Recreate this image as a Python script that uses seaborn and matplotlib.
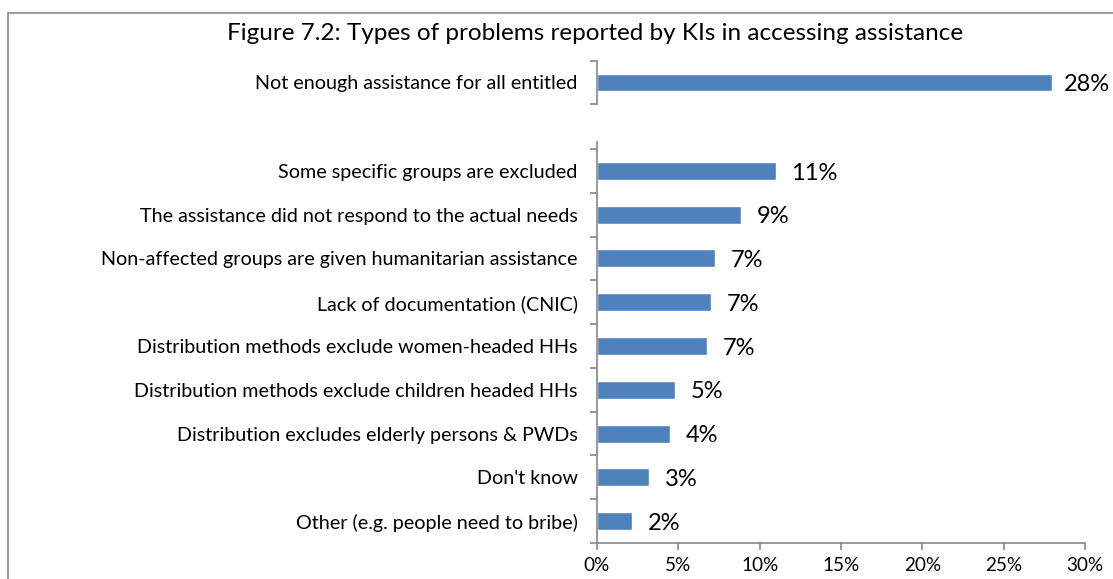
import matplotlib
matplotlib.use("Agg")
import matplotlib.pyplot as plt
import seaborn as sns
import pandas as pd
from matplotlib.patches import Rectangle

sns.set_theme(style="white")
plt.rcParams['font.family'] = ['Lato', 'DejaVu Sans']

title = "Figure 7.2: Types of problems reported by KIs in accessing assistance"

top_category = ["Not enough assistance for all entitled"]
top_value = [28]

categories = [
    "Some specific groups are excluded",
    "The assistance did not respond to the actual needs",
    "Non-affected groups are given humanitarian assistance",
    "Lack of documentation (CNIC)",
    "Distribution methods exclude women-headed HHs",
    "Distribution methods exclude children headed HHs",
    "Distribution excludes elderly persons & PWDs",
    "Don't know",
    "Other (e.g. people need to bribe)",
]
values = [11.0, 8.85, 7.25, 7.0, 6.75, 4.8, 4.5, 3.2, 2.15]
value_labels = ["11%", "9%", "7%", "7%", "7%", "5%", "4%", "3%", "2%"]
top_label = ["28%"]

xticks = [0, 5, 10, 15, 20, 25, 30]
xtick_labels = ["0%", "5%", "10%", "15%", "20%", "25%", "30%"]

BAR = "#4F81BD"
AXIS = "#868686"
W, H = 1113, 579

fig = plt.figure(figsize=(W / 100, H / 100), dpi=100)

# outer frame
fig.patches.append(Rectangle((8 / W, -0.1), 1.2, 1 - 13 / H + 0.1,
                             transform=fig.transFigure, fill=False,
                             edgecolor="#8c8c8c", linewidth=1.2))

fig.text(595 / W, 1 - 33 / H, title, ha="center", va="center", fontsize=17.5, color="black")


def style_axis(ax, n, show_x, top_extra=0.0):
    ax.set_xlim(0, 30)
    ax.set_ylim(n - 0.5, -0.5 - top_extra)
    for s in ["top", "right"]:
        ax.spines[s].set_visible(False)
    ax.spines["left"].set_color(AXIS)
    ax.spines["left"].set_linewidth(1.2)
    ax.set_yticks([i - 0.5 for i in range(n + 1)], minor=True)
    ax.tick_params(axis="y", which="minor", length=5, width=1.2, color=AXIS, left=True)
    ax.tick_params(axis="y", which="major", length=0, labelsize=14.2, pad=14, colors="black")
    if show_x:
        ax.spines["bottom"].set_color(AXIS)
        ax.spines["bottom"].set_linewidth(1.2)
        ax.set_xticks(xticks)
        ax.set_xticklabels(xtick_labels)
        ax.tick_params(axis="x", length=5, width=1.2, color=AXIS, labelsize=13.6,
                       pad=5, bottom=True, colors="black")
    else:
        ax.spines["bottom"].set_visible(False)
        ax.set_xticks([])
    ax.set_xlabel("")
    ax.set_ylabel("")


# top single-bar panel
ax1 = fig.add_axes([597 / W, 1 - 104 / H, 488 / W, 43 / H])
df1 = pd.DataFrame({"cat": top_category, "val": top_value})
sns.barplot(data=df1, y="cat", x="val", orient="h", color=BAR, width=0.41,
            saturation=1, ax=ax1)
style_axis(ax1, 1, False)
for i, (v, lab) in enumerate(zip(top_value, top_label)):
    ax1.text(v + 0.7, i + 0.05, lab, va="center", ha="left", fontsize=17, color="black",
             clip_on=False)

# main panel
ax2 = fig.add_axes([597 / W, 1 - 543 / H, 488 / W, 401 / H])
df2 = pd.DataFrame({"cat": categories, "val": values})
sns.barplot(data=df2, y="cat", x="val", orient="h", color=BAR, width=0.41,
            saturation=1, ax=ax2)
style_axis(ax2, len(categories), True, top_extra=0.16)
for i, (v, lab) in enumerate(zip(values, value_labels)):
    ax2.text(v + 0.95, i + 0.05, lab, va="center", ha="left", fontsize=17, color="black")

for ax in (ax1, ax2):
    for t in ax.get_yticklabels() + ax.get_xticklabels():
        t.set_color("black")

fig.savefig("out.png", dpi=100)
